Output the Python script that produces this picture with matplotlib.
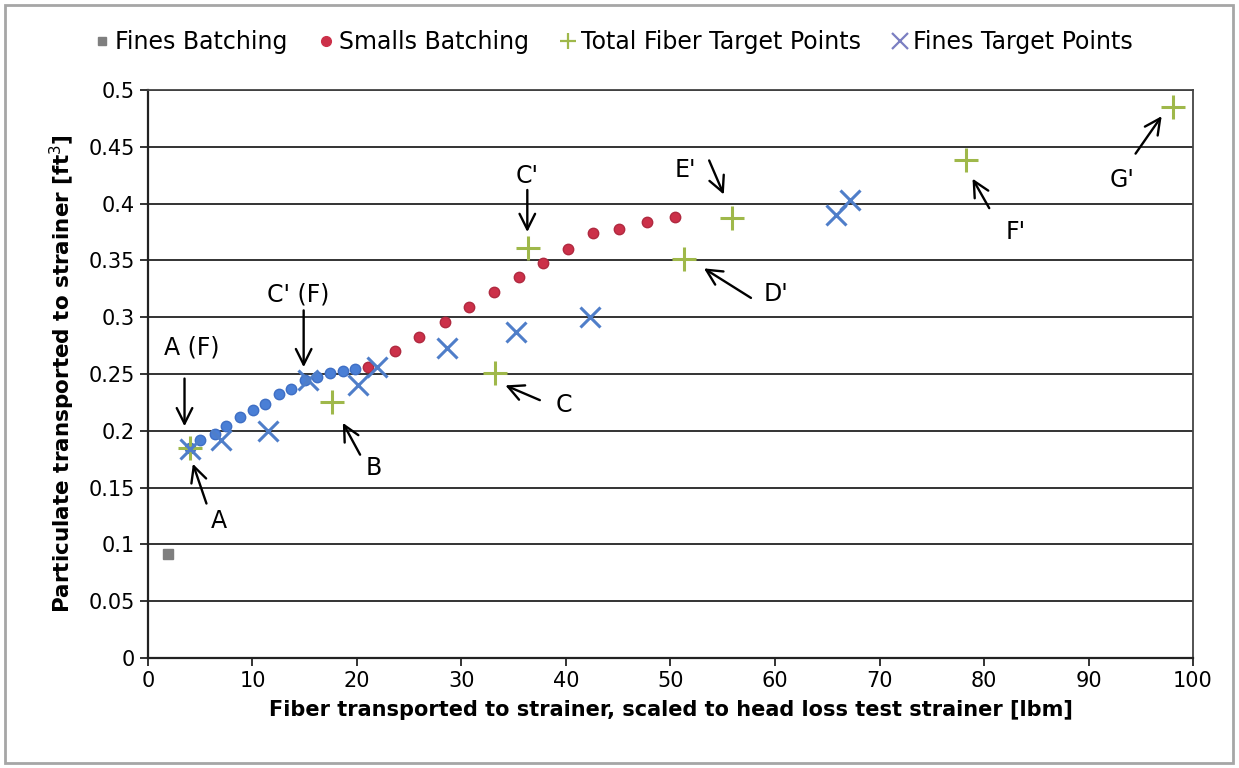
import matplotlib
matplotlib.use("Agg")
import matplotlib.pyplot as plt
from matplotlib.lines import Line2D
from matplotlib.patches import Rectangle

# series
fines_batch_x = [1.94]
fines_batch_y = [0.092]

fines_dots_x = [4.0, 5.0, 6.4, 7.5, 8.8, 10.1, 11.2, 12.5, 13.7, 15.0, 16.2, 17.4, 18.7, 19.8]
fines_dots_y = [0.185, 0.192, 0.197, 0.204, 0.212, 0.218, 0.224, 0.232, 0.237, 0.245, 0.247, 0.251, 0.253, 0.254]

smalls_x = [21.1, 23.6, 25.9, 28.4, 30.7, 33.1, 35.5, 37.8, 40.2, 42.6, 45.1, 47.8, 50.4]
smalls_y = [0.256, 0.270, 0.283, 0.296, 0.309, 0.322, 0.335, 0.348, 0.360, 0.374, 0.378, 0.384, 0.388]

total_target_x = [4.0, 17.6, 33.2, 36.4, 51.3, 55.9, 78.3, 98.05]
total_target_y = [0.185, 0.225, 0.251, 0.361, 0.351, 0.387, 0.438, 0.485]

fines_target_x = [4.0, 7.0, 11.5, 15.3, 20.1, 21.9, 28.6, 35.2, 42.3, 65.8, 67.2]
fines_target_y = [0.184, 0.192, 0.200, 0.245, 0.240, 0.256, 0.273, 0.287, 0.300, 0.390, 0.403]

# annotations: label, text position, arrow tail, arrow head
ann_labels = ["A (F)", "A", "C' (F)", "B", "C", "C'", "D'", "E'", "F'", "G'"]
ann_text = [(4.2, 0.273), (6.74, 0.121), (14.4, 0.320), (21.6, 0.167), (39.8, 0.223),
            (36.3, 0.424), (60.1, 0.320), (51.4, 0.430), (83.0, 0.375), (93.2, 0.421)]
ann_tail = [(3.5, 0.246), (5.6, 0.136), (14.9, 0.306), (20.3, 0.179), (37.5, 0.227),
            (36.3, 0.412), (57.7, 0.317), (53.7, 0.438), (80.5, 0.396), (94.5, 0.444)]
ann_head = [(3.5, 0.204), (4.3, 0.171), (14.9, 0.256), (18.65, 0.207), (34.2, 0.240),
            (36.3, 0.375), (53.2, 0.343), (55.1, 0.408), (78.9, 0.422), (97.0, 0.477)]

plt.rcParams['font.family'] = ['DejaVu Sans']

fig = plt.figure(figsize=(12.39, 7.68), dpi=100)
ax = fig.add_axes([0.1194, 0.1432, 0.8435, 0.7396])

ax.plot(fines_batch_x, fines_batch_y, 's', color='#7f7f7f', ms=7, zorder=3)
ax.plot(fines_dots_x, fines_dots_y, 'o', color='#4a7fd6', ms=7.5, mec='#3f6fc4', zorder=3)
ax.plot(smalls_x, smalls_y, 'o', color='#cc3049', ms=7.5, mec='#b02a40', zorder=3)
ax.plot(total_target_x, total_target_y, '+', color='#9fb84a', ms=17, mew=2.2, zorder=4)
ax.plot(fines_target_x, fines_target_y, 'x', color='#4f7ec9', ms=14, mew=2.2, zorder=5)

for lab, t, a, h in zip(ann_labels, ann_text, ann_tail, ann_head):
    ax.annotate('', xy=h, xytext=a,
                arrowprops=dict(arrowstyle='->', lw=1.7, color='black', mutation_scale=28,
                                shrinkA=0, shrinkB=0), zorder=6)
    ax.text(t[0], t[1], lab, fontsize=17, ha='center', va='center', zorder=6)

ax.set_xlim(0, 100)
ax.set_ylim(0, 0.5)
ax.set_xticks(range(0, 101, 10))
ax.set_yticks([i * 0.05 for i in range(11)])
ax.set_yticklabels(['0', '0.05', '0.1', '0.15', '0.2', '0.25', '0.3', '0.35', '0.4', '0.45', '0.5'])
ax.yaxis.grid(True, color='#333333', lw=1.4)
ax.set_axisbelow(True)
ax.tick_params(axis='both', labelsize=15, length=6, width=1.4, color='#333333', direction='out')
for s in ['left', 'bottom']:
    ax.spines[s].set_color('#222222')
    ax.spines[s].set_linewidth(1.6)
for s in ['top', 'right']:
    ax.spines[s].set_color('#444444')
    ax.spines[s].set_linewidth(1.3)

ax.set_xlabel('Fiber transported to strainer, scaled to head loss test strainer [lbm]',
              fontsize=15, fontweight='bold', labelpad=6)
ax.set_ylabel('Particulate transported to strainer [ft$^3$]', fontsize=15.5,
              fontweight='bold', labelpad=8)

handles = [
    Line2D([], [], ls='', marker='s', color='#7f7f7f', ms=6),
    Line2D([], [], ls='', marker='o', color='#cc3049', ms=7),
    Line2D([], [], ls='', marker='+', color='#9fb84a', ms=12, mew=1.6),
    Line2D([], [], ls='', marker='x', color='#7b7fc2', ms=11, mew=1.6),
]
names = ['Fines Batching', 'Smalls Batching', 'Total Fiber Target Points', 'Fines Target Points']
fig.legend(handles, names, loc='center', bbox_to_anchor=(0.495, 0.945), ncol=4,
           frameon=False, fontsize=17, handlelength=0.7, handletextpad=0.2,
           columnspacing=1.3)

fig.patches.append(Rectangle((0.004, 0.007), 0.991, 0.986, transform=fig.transFigure,
                             fill=False, edgecolor='#a6a6a6', lw=2))

fig.savefig('out.png', dpi=100)
